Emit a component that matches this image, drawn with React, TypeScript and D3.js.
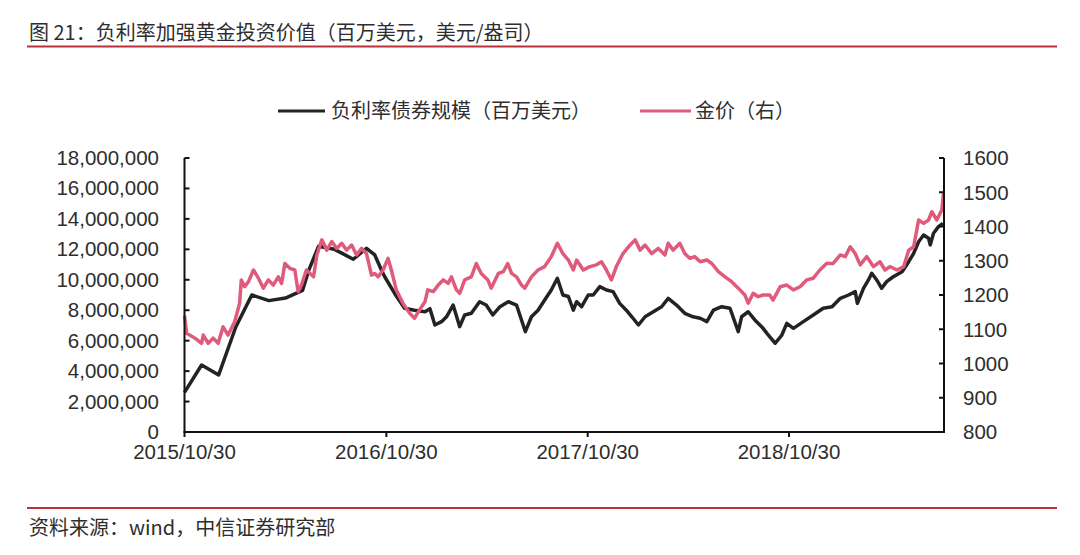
import React, { useEffect } from "react";
import * as d3 from "d3";

// 负利率债券规模（百万美元）
const bondDates = [
  "2015-10-30","2015-11-30","2015-12-31","2016-01-31","2016-02-29","2016-03-31","2016-04-30","2016-05-31",
  "2016-06-11","2016-06-29","2016-07-28","2016-08-31","2016-09-24","2016-10-09","2016-10-21","2016-10-27",
  "2016-11-14","2016-12-02","2016-12-20","2017-01-08","2017-01-17","2017-01-26","2017-02-07","2017-02-16",
  "2017-02-28","2017-03-12","2017-03-21","2017-04-02","2017-04-17","2017-04-29","2017-05-11","2017-05-24",
  "2017-06-08","2017-06-23","2017-07-02","2017-07-09","2017-07-20","2017-08-01","2017-08-13","2017-08-25",
  "2017-09-05","2017-09-15","2017-09-25","2017-10-04","2017-10-10","2017-10-19","2017-10-31","2017-11-09",
  "2017-11-21","2017-12-03","2017-12-15","2017-12-27","2018-01-08","2018-01-18","2018-01-30","2018-02-11",
  "2018-02-26","2018-03-13","2018-03-25","2018-04-09","2018-04-24","2018-05-09","2018-05-22","2018-06-03",
  "2018-06-15","2018-06-30","2018-07-15","2018-07-30","2018-08-05","2018-08-17","2018-08-29","2018-09-04",
  "2018-09-13","2018-09-20","2018-10-05","2018-10-17","2018-10-26","2018-11-07","2018-11-25","2018-12-13",
  "2018-12-31","2019-01-16","2019-01-31","2019-02-15","2019-02-27","2019-03-03","2019-03-14","2019-03-23",
  "2019-03-29","2019-04-07","2019-04-16","2019-04-25","2019-05-07","2019-05-23","2019-06-04","2019-06-13",
  "2019-06-22","2019-07-01","2019-07-10","2019-07-13","2019-07-19","2019-07-28","2019-08-05",
];
const bondValues = [
  2600000,4400000,3750000,6900000,9000000,8630000,8800000,9300000,
  10600000,12200000,12000000,11350000,12070000,11630000,10640000,10200000,
  9100000,8130000,8000000,7900000,8100000,7030000,7250000,7570000,
  8340000,6920000,7690000,7800000,8560000,8340000,7690000,8230000,
  8560000,8340000,7360000,6590000,7570000,8000000,8670000,9330000,
  10100000,9000000,8900000,8000000,8560000,8230000,9000000,9000000,
  9550000,9330000,9220000,8450000,8000000,7570000,7030000,7570000,
  7900000,8230000,8780000,8340000,7800000,7570000,7470000,7250000,
  8000000,8230000,8130000,6590000,7570000,7900000,7360000,7140000,
  6810000,6480000,5830000,6370000,7140000,6810000,7250000,7690000,
  8130000,8230000,8780000,9000000,9220000,8450000,9440000,9990000,
  10430000,9990000,9440000,9880000,10200000,10530000,11190000,11740000,
  12500000,12940000,12730000,12290000,13060000,13490000,13710000,
];

// 金价（右）
const goldDates = [
  "2015-10-30","2015-11-03","2015-11-18","2015-11-30","2015-12-03","2015-12-12","2015-12-21","2015-12-30",
  "2016-01-08","2016-01-17","2016-01-29","2016-02-07","2016-02-10","2016-02-16","2016-02-23","2016-03-03",
  "2016-03-12","2016-03-21","2016-03-30","2016-04-08","2016-04-17","2016-04-23","2016-04-29","2016-05-08",
  "2016-05-17","2016-05-23","2016-05-29","2016-06-07","2016-06-20","2016-06-26","2016-07-05","2016-07-14",
  "2016-07-23","2016-08-01","2016-08-10","2016-08-19","2016-08-28","2016-09-06","2016-09-15","2016-09-24",
  "2016-10-03","2016-10-09","2016-10-15","2016-10-24","2016-11-02","2016-11-08","2016-11-17","2016-11-29",
  "2016-12-11","2016-12-20","2016-12-29","2017-01-08","2017-01-13","2017-01-23","2017-02-01","2017-02-10",
  "2017-02-19","2017-02-25","2017-03-06","2017-03-12","2017-03-21","2017-04-02","2017-04-11","2017-04-20",
  "2017-05-02","2017-05-08","2017-05-21","2017-05-30","2017-06-07","2017-06-14","2017-06-23","2017-07-02",
  "2017-07-08","2017-07-20","2017-08-01","2017-08-13","2017-08-25","2017-09-05","2017-09-15","2017-09-25",
  "2017-10-04","2017-10-10","2017-10-22","2017-11-03","2017-11-15","2017-11-24","2017-12-03","2017-12-12",
  "2017-12-21","2018-01-02","2018-01-15","2018-01-24","2018-02-02","2018-02-11","2018-02-23","2018-03-07",
  "2018-03-19","2018-03-25","2018-04-03","2018-04-15","2018-04-24","2018-05-03","2018-05-12","2018-05-22",
  "2018-06-03","2018-06-12","2018-06-24","2018-07-06","2018-07-18","2018-07-30","2018-08-11","2018-08-17",
  "2018-08-26","2018-09-04","2018-09-13","2018-09-25","2018-10-01","2018-10-14","2018-10-26","2018-11-07",
  "2018-11-19","2018-12-01","2018-12-13","2018-12-25","2019-01-06","2019-01-18","2019-01-31","2019-02-09",
  "2019-02-18","2019-02-27","2019-03-08","2019-03-20","2019-04-01","2019-04-13","2019-04-22","2019-05-01",
  "2019-05-14","2019-05-26","2019-06-04","2019-06-13","2019-06-22","2019-07-01","2019-07-10","2019-07-16",
  "2019-07-25","2019-08-03","2019-08-06",
];
const goldValues = [
  1140,1088,1074,1059,1083,1059,1074,1059,
  1107,1083,1122,1176,1244,1224,1239,1273,
  1249,1220,1244,1229,1253,1234,1292,1278,
  1273,1210,1229,1273,1253,1317,1361,1331,
  1356,1336,1351,1331,1346,1317,1336,1321,
  1258,1263,1253,1273,1307,1273,1215,1176,
  1147,1132,1156,1180,1215,1210,1229,1244,
  1234,1253,1215,1205,1244,1253,1292,1263,
  1244,1220,1263,1268,1292,1263,1253,1229,
  1220,1253,1273,1283,1312,1351,1321,1302,
  1273,1302,1273,1283,1288,1297,1273,1244,
  1283,1321,1346,1361,1331,1346,1321,1336,
  1317,1351,1331,1351,1321,1307,1312,1297,
  1302,1292,1268,1253,1239,1220,1200,1176,
  1205,1195,1200,1200,1185,1224,1229,1215,
  1224,1244,1249,1273,1292,1292,1317,1312,
  1341,1321,1288,1312,1283,1297,1273,1283,
  1273,1283,1331,1341,1419,1409,1419,1443,
  1419,1448,1497,
];

const leftTicks = [0, 2000000, 4000000, 6000000, 8000000, 10000000, 12000000, 14000000, 16000000, 18000000];
const rightTicks = [800, 900, 1000, 1100, 1200, 1300, 1400, 1500, 1600];
const xTickDates = ["2015-10-30", "2016-10-30", "2017-10-30", "2018-10-30"];
const xTickLabels = ["2015/10/30", "2016/10/30", "2017/10/30", "2018/10/30"];
const xDomain = ["2015-10-30", "2019-08-07"];

const titleText = "图 21：负利率加强黄金投资价值（百万美元，美元/盎司）";
const legendLabels = ["负利率债券规模（百万美元）", "金价（右）"];
const sourceText = "资料来源：wind，中信证券研究部";

const BLACK = "#232323";
const PINK = "#e05a7b";
const RED = "#b8333a";
const TEXT = "#2e2e2e";
const CJK = '"Noto Sans CJK SC", "Noto Sans", sans-serif';
const LATIN = '"Liberation Sans", Arial, sans-serif';

export default function App() {
  useEffect(() => {
    document.body.style.margin = "0";
  }, []);

  const parse = d3.timeParse("%Y-%m-%d");
  const left = 184.5, right = 944, top = 158, bottom = 432;

  const x = d3.scaleTime()
    .domain(xDomain.map((s) => parse(s) as Date))
    .range([left, right]);
  const yL = d3.scaleLinear().domain([0, 18000000]).range([bottom, top]);
  const yR = d3.scaleLinear().domain([800, 1600]).range([bottom, top]);

  const bond: [Date, number][] = bondDates.map((d, i) => [parse(d) as Date, bondValues[i]]);
  const gold: [Date, number][] = goldDates.map((d, i) => [parse(d) as Date, goldValues[i]]);

  const bondLine = d3.line<[Date, number]>().x((d) => x(d[0])).y((d) => yL(d[1]))(bond) || "";
  const goldLine = d3.line<[Date, number]>().x((d) => x(d[0])).y((d) => yR(d[1]))(gold) || "";
  const fmt = d3.format(",");

  return (
    <svg width={1080} height={555} style={{ display: "block", background: "#fff" }}>
      {/* title */}
      <text x={29} y={40} fontFamily={CJK} fontSize={20} fill={TEXT}>{titleText}</text>
      <line x1={27} x2={1057} y1={46.5} y2={46.5} stroke={RED} strokeWidth={2} />

      {/* legend */}
      <line x1={278} x2={325} y1={111} y2={111} stroke={BLACK} strokeWidth={3} />
      <text x={331} y={118} fontFamily={CJK} fontSize={20} fill={TEXT}>{legendLabels[0]}</text>
      <line x1={640} x2={691} y1={111} y2={111} stroke={PINK} strokeWidth={3} />
      <text x={695} y={118} fontFamily={CJK} fontSize={20} fill={TEXT}>{legendLabels[1]}</text>

      {/* series */}
      <path d={bondLine} fill="none" stroke={BLACK} strokeWidth={3.5} strokeLinejoin="round" />
      <path d={goldLine} fill="none" stroke={PINK} strokeWidth={3.5} strokeLinejoin="round" />

      {/* axes */}
      <line x1={left} x2={left} y1={top} y2={bottom} stroke="#111" strokeWidth={2} />
      <line x1={right} x2={right} y1={top} y2={bottom} stroke="#111" strokeWidth={2} />
      <line x1={left - 1} x2={right + 1} y1={bottom} y2={bottom} stroke="#111" strokeWidth={2} />

      {leftTicks.map((t) => (
        <g key={"l" + t}>
          <line x1={left} x2={left + 5} y1={yL(t)} y2={yL(t)} stroke="#111" strokeWidth={2} />
          <text x={159} y={yL(t)} dy="0.34em" textAnchor="end" fontFamily={LATIN} fontSize={20.5} fill={TEXT}>
            {fmt(t)}
          </text>
        </g>
      ))}
      {rightTicks.map((t) => (
        <g key={"r" + t}>
          <line x1={right - 5} x2={right} y1={yR(t)} y2={yR(t)} stroke="#111" strokeWidth={2} />
          <text x={963} y={yR(t)} dy="0.36em" textAnchor="start" fontFamily={LATIN} fontSize={20.5} fill={TEXT}>
            {t}
          </text>
        </g>
      ))}
      {xTickDates.map((d, i) => {
        const xx = x(parse(d) as Date);
        return (
          <g key={"x" + d}>
            <line x1={xx} x2={xx} y1={bottom} y2={bottom + 5} stroke="#111" strokeWidth={2} />
            <text x={xx} y={459} textAnchor="middle" fontFamily={LATIN} fontSize={20.5} fill={TEXT}>
              {xTickLabels[i]}
            </text>
          </g>
        );
      })}

      {/* footer */}
      <line x1={27} x2={1057} y1={508} y2={508} stroke={RED} strokeWidth={2} />
      <text x={29} y={535} fontFamily={CJK} fontSize={20} fill={TEXT}>{sourceText}</text>
    </svg>
  );
}
